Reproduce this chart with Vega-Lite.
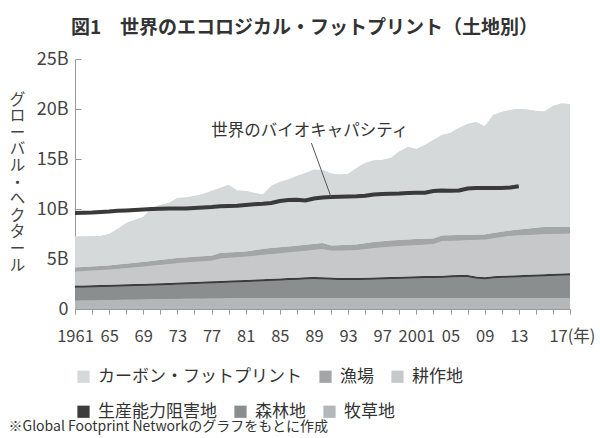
{
  "$schema": "https://vega.github.io/schema/vega-lite/v6.json",
  "width": 495,
  "height": 250,
  "autosize": {"type": "none"},
  "padding": {"left": 75, "top": 59, "right": 30, "bottom": 129},
  "background": "white",
  "config": {"font": "Noto Sans CJK JP", "view": {"stroke": null}},
  "title": {"text": "図1　世界のエコロジカル・フットプリント（土地別）", "fontSize": 19, "fontWeight": "bold", "color": "#333333", "anchor": "middle", "dx": -18, "offset": 12},
  "resolve": {"axis": {"x": "independent"}},
  "datasets": {
    "rank": [
      {"land": "牧草地", "rank": 1},
      {"land": "森林地", "rank": 2},
      {"land": "生産能力阻害地", "rank": 3},
      {"land": "耕作地", "rank": 4},
      {"land": "漁場", "rank": 5},
      {"land": "カーボン・フットプリント", "rank": 6}
    ]
  },
  "data": {"values": [
    {"year": 1961, "牧草地": 0.86, "森林地": 1.28, "生産能力阻害地": 0.2, "耕作地": 1.42, "漁場": 0.40, "カーボン・フットプリント": 3.10, "biocap": 9.6},
    {"year": 1962, "牧草地": 0.87, "森林地": 1.29, "生産能力阻害地": 0.2, "耕作地": 1.44, "漁場": 0.41, "カーボン・フットプリント": 3.05, "biocap": 9.62},
    {"year": 1963, "牧草地": 0.88, "森林地": 1.30, "生産能力阻害地": 0.2, "耕作地": 1.47, "漁場": 0.41, "カーボン・フットプリント": 3.02, "biocap": 9.65},
    {"year": 1964, "牧草地": 0.89, "森林地": 1.31, "生産能力阻害地": 0.2, "耕作地": 1.50, "漁場": 0.41, "カーボン・フットプリント": 2.99, "biocap": 9.7},
    {"year": 1965, "牧草地": 0.90, "森林地": 1.32, "生産能力阻害地": 0.2, "耕作地": 1.53, "漁場": 0.41, "カーボン・フットプリント": 3.14, "biocap": 9.75},
    {"year": 1966, "牧草地": 0.92, "森林地": 1.33, "生産能力阻害地": 0.2, "耕作地": 1.57, "漁場": 0.43, "カーボン・フットプリント": 3.55, "biocap": 9.82},
    {"year": 1967, "牧草地": 0.94, "森林地": 1.33, "生産能力阻害地": 0.2, "耕作地": 1.63, "漁場": 0.43, "カーボン・フットプリント": 4.07, "biocap": 9.86},
    {"year": 1968, "牧草地": 0.96, "森林地": 1.34, "生産能力阻害地": 0.2, "耕作地": 1.67, "漁場": 0.45, "カーボン・フットプリント": 4.28, "biocap": 9.9},
    {"year": 1969, "牧草地": 0.98, "森林地": 1.34, "生産能力阻害地": 0.2, "耕作地": 1.73, "漁場": 0.45, "カーボン・フットプリント": 4.50, "biocap": 9.95},
    {"year": 1970, "牧草地": 1.00, "森林地": 1.35, "生産能力阻害地": 0.2, "耕作地": 1.79, "漁場": 0.46, "カーボン・フットプリント": 5.30, "biocap": 10.0},
    {"year": 1971, "牧草地": 1.01, "森林地": 1.37, "生産能力阻害地": 0.2, "耕作地": 1.84, "漁場": 0.48, "カーボン・フットプリント": 5.50, "biocap": 10.03},
    {"year": 1972, "牧草地": 1.02, "森林地": 1.39, "生産能力阻害地": 0.2, "耕作地": 1.90, "漁場": 0.49, "カーボン・フットプリント": 5.60, "biocap": 10.05},
    {"year": 1973, "牧草地": 1.03, "森林地": 1.41, "生産能力阻害地": 0.2, "耕作地": 1.96, "漁場": 0.50, "カーボン・フットプリント": 6.00, "biocap": 10.06},
    {"year": 1974, "牧草地": 1.04, "森林地": 1.43, "生産能力阻害地": 0.2, "耕作地": 1.99, "漁場": 0.50, "カーボン・フットプリント": 5.99, "biocap": 10.06},
    {"year": 1975, "牧草地": 1.05, "森林地": 1.45, "生産能力阻害地": 0.2, "耕作地": 2.02, "漁場": 0.50, "カーボン・フットプリント": 6.08, "biocap": 10.1},
    {"year": 1976, "牧草地": 1.06, "森林地": 1.48, "生産能力阻害地": 0.2, "耕作地": 2.04, "漁場": 0.49, "カーボン・フットプリント": 6.23, "biocap": 10.15},
    {"year": 1977, "牧草地": 1.07, "森林地": 1.50, "生産能力阻害地": 0.2, "耕作地": 2.08, "漁場": 0.48, "カーボン・フットプリント": 6.47, "biocap": 10.2},
    {"year": 1978, "牧草地": 1.08, "森林地": 1.53, "生産能力阻害地": 0.2, "耕作地": 2.24, "漁場": 0.55, "カーボン・フットプリント": 6.50, "biocap": 10.28},
    {"year": 1979, "牧草地": 1.09, "森林地": 1.55, "生産能力阻害地": 0.2, "耕作地": 2.28, "漁場": 0.53, "カーボン・フットプリント": 6.75, "biocap": 10.3},
    {"year": 1980, "牧草地": 1.10, "森林地": 1.58, "生産能力阻害地": 0.2, "耕作地": 2.30, "漁場": 0.52, "カーボン・フットプリント": 6.16, "biocap": 10.32},
    {"year": 1981, "牧草地": 1.10, "森林地": 1.61, "生産能力阻害地": 0.2, "耕作地": 2.34, "漁場": 0.51, "カーボン・フットプリント": 6.04, "biocap": 10.4},
    {"year": 1982, "牧草地": 1.10, "森林地": 1.65, "生産能力阻害地": 0.2, "耕作地": 2.38, "漁場": 0.54, "カーボン・フットプリント": 5.73, "biocap": 10.48},
    {"year": 1983, "牧草地": 1.10, "森林地": 1.68, "生産能力阻害地": 0.2, "耕作地": 2.44, "漁場": 0.57, "カーボン・フットプリント": 5.46, "biocap": 10.53},
    {"year": 1984, "牧草地": 1.10, "森林地": 1.72, "生産能力阻害地": 0.2, "耕作地": 2.48, "漁場": 0.60, "カーボン・フットプリント": 6.20, "biocap": 10.6},
    {"year": 1985, "牧草地": 1.10, "森林地": 1.75, "生産能力阻害地": 0.2, "耕作地": 2.53, "漁場": 0.60, "カーボン・フットプリント": 6.52, "biocap": 10.8},
    {"year": 1986, "牧草地": 1.10, "森林地": 1.79, "生産能力阻害地": 0.2, "耕作地": 2.58, "漁場": 0.58, "カーボン・フットプリント": 6.70, "biocap": 10.9},
    {"year": 1987, "牧草地": 1.10, "森林地": 1.83, "生産能力阻害地": 0.2, "耕作地": 2.62, "漁場": 0.58, "カーボン・フットプリント": 6.97, "biocap": 10.92},
    {"year": 1988, "牧草地": 1.10, "森林地": 1.88, "生産能力阻害地": 0.2, "耕作地": 2.65, "漁場": 0.59, "カーボン・フットプリント": 7.18, "biocap": 10.85},
    {"year": 1989, "牧草地": 1.10, "森林地": 1.89, "生産能力阻害地": 0.2, "耕作地": 2.73, "漁場": 0.59, "カーボン・フットプリント": 7.42, "biocap": 11.05},
    {"year": 1990, "牧草地": 1.10, "森林地": 1.88, "生産能力阻害地": 0.2, "耕作地": 2.82, "漁場": 0.60, "カーボン・フットプリント": 7.30, "biocap": 11.15},
    {"year": 1991, "牧草地": 1.10, "森林地": 1.84, "生産能力阻害地": 0.2, "耕作地": 2.71, "漁場": 0.50, "カーボン・フットプリント": 7.20, "biocap": 11.2},
    {"year": 1992, "牧草地": 1.10, "森林地": 1.80, "生産能力阻害地": 0.2, "耕作地": 2.76, "漁場": 0.52, "カーボン・フットプリント": 7.07, "biocap": 11.22},
    {"year": 1993, "牧草地": 1.10, "森林地": 1.80, "生産能力阻害地": 0.2, "耕作地": 2.78, "漁場": 0.54, "カーボン・フットプリント": 7.08, "biocap": 11.25},
    {"year": 1994, "牧草地": 1.10, "森林地": 1.81, "生産能力阻害地": 0.2, "耕作地": 2.79, "漁場": 0.55, "カーボン・フットプリント": 7.65, "biocap": 11.27},
    {"year": 1995, "牧草地": 1.10, "森林地": 1.82, "生産能力阻害地": 0.2, "耕作地": 2.88, "漁場": 0.58, "カーボン・フットプリント": 8.02, "biocap": 11.33},
    {"year": 1996, "牧草地": 1.10, "森林地": 1.85, "生産能力阻害地": 0.2, "耕作地": 2.95, "漁場": 0.60, "カーボン・フットプリント": 8.16, "biocap": 11.45},
    {"year": 1997, "牧草地": 1.10, "森林地": 1.87, "生産能力阻害地": 0.2, "耕作地": 3.01, "漁場": 0.60, "カーボン・フットプリント": 8.12, "biocap": 11.5},
    {"year": 1998, "牧草地": 1.10, "森林地": 1.90, "生産能力阻害地": 0.2, "耕作地": 3.05, "漁場": 0.61, "カーボン・フットプリント": 8.24, "biocap": 11.52},
    {"year": 1999, "牧草地": 1.10, "森林地": 1.93, "生産能力阻害地": 0.2, "耕作地": 3.07, "漁場": 0.61, "カーボン・フットプリント": 8.85, "biocap": 11.55},
    {"year": 2000, "牧草地": 1.10, "森林地": 1.96, "生産能力阻害地": 0.2, "耕作地": 3.09, "漁場": 0.60, "カーボン・フットプリント": 9.25, "biocap": 11.6},
    {"year": 2001, "牧草地": 1.10, "森林地": 1.97, "生産能力阻害地": 0.2, "耕作地": 3.13, "漁場": 0.60, "カーボン・フットプリント": 9.00, "biocap": 11.62},
    {"year": 2002, "牧草地": 1.10, "森林地": 1.99, "生産能力阻害地": 0.2, "耕作地": 3.16, "漁場": 0.58, "カーボン・フットプリント": 9.37, "biocap": 11.62},
    {"year": 2003, "牧草地": 1.10, "森林地": 2.00, "生産能力阻害地": 0.2, "耕作地": 3.20, "漁場": 0.55, "カーボン・フットプリント": 9.85, "biocap": 11.8},
    {"year": 2004, "牧草地": 1.10, "森林地": 2.03, "生産能力阻害地": 0.2, "耕作地": 3.47, "漁場": 0.55, "カーボン・フットプリント": 10.05, "biocap": 11.85},
    {"year": 2005, "牧草地": 1.10, "森林地": 2.07, "生産能力阻害地": 0.2, "耕作地": 3.46, "漁場": 0.54, "カーボン・フットプリント": 10.23, "biocap": 11.83},
    {"year": 2006, "牧草地": 1.10, "森林地": 2.10, "生産能力阻害地": 0.2, "耕作地": 3.46, "漁場": 0.53, "カーボン・フットプリント": 10.71, "biocap": 11.85},
    {"year": 2007, "牧草地": 1.10, "森林地": 2.10, "生産能力阻害地": 0.2, "耕作地": 3.49, "漁場": 0.52, "カーボン・フットプリント": 11.09, "biocap": 12.05},
    {"year": 2008, "牧草地": 1.10, "森林地": 1.95, "生産能力阻害地": 0.2, "耕作地": 3.67, "漁場": 0.51, "カーボン・フットプリント": 11.27, "biocap": 12.1},
    {"year": 2009, "牧草地": 1.10, "森林地": 1.88, "生産能力阻害地": 0.2, "耕作地": 3.77, "漁場": 0.50, "カーボン・フットプリント": 10.80, "biocap": 12.1},
    {"year": 2010, "牧草地": 1.10, "森林地": 1.98, "生産能力阻害地": 0.2, "耕作地": 3.80, "漁場": 0.52, "カーボン・フットプリント": 11.80, "biocap": 12.1},
    {"year": 2011, "牧草地": 1.10, "森林地": 2.02, "生産能力阻害地": 0.2, "耕作地": 3.88, "漁場": 0.53, "カーボン・フットプリント": 11.97, "biocap": 12.1},
    {"year": 2012, "牧草地": 1.10, "森林地": 2.05, "生産能力阻害地": 0.2, "耕作地": 3.98, "漁場": 0.53, "カーボン・フットプリント": 12.04, "biocap": 12.15},
    {"year": 2013, "牧草地": 1.10, "森林地": 2.08, "生産能力阻害地": 0.2, "耕作地": 3.99, "漁場": 0.58, "カーボン・フットプリント": 12.05, "biocap": 12.28},
    {"year": 2014, "牧草地": 1.10, "森林地": 2.12, "生産能力阻害地": 0.2, "耕作地": 3.99, "漁場": 0.62, "カーボン・フットプリント": 11.92},
    {"year": 2015, "牧草地": 1.10, "森林地": 2.15, "生産能力阻害地": 0.2, "耕作地": 4.01, "漁場": 0.66, "カーボン・フットプリント": 11.68},
    {"year": 2016, "牧草地": 1.10, "森林地": 2.18, "生産能力阻害地": 0.2, "耕作地": 4.02, "漁場": 0.70, "カーボン・フットプリント": 11.55},
    {"year": 2017, "牧草地": 1.10, "森林地": 2.22, "生産能力阻害地": 0.2, "耕作地": 4.00, "漁場": 0.68, "カーボン・フットプリント": 12.10},
    {"year": 2018, "牧草地": 1.10, "森林地": 2.25, "生産能力阻害地": 0.2, "耕作地": 3.98, "漁場": 0.67, "カーボン・フットプリント": 12.35},
    {"year": 2019, "牧草地": 1.10, "森林地": 2.27, "生産能力阻害地": 0.2, "耕作地": 3.98, "漁場": 0.67, "カーボン・フットプリント": 12.28}
  ]},
  "layer": [
    {
      "transform": [
        {"fold": ["牧草地", "森林地", "生産能力阻害地", "耕作地", "漁場", "カーボン・フットプリント"], "as": ["land", "value"]},
        {"lookup": "land", "from": {"data": {"name": "rank"}, "key": "land", "fields": ["rank"]}}
      ],
      "mark": {"type": "area", "opacity": 1},
      "encoding": {
        "x": {"field": "year", "type": "quantitative",
          "scale": {"domain": [1961, 2019], "nice": false, "zero": false},
          "axis": {
            "orient": "bottom",
            "values": [1961, 1965, 1969, 1973, 1977, 1981, 1985, 1989, 1993, 1997, 2001, 2005, 2009, 2013, 2017],
            "labelExpr": "(datum.value == 1961 || datum.value == 2001) ? '' + datum.value : datum.value == 2017 ? '17(年)' : substring('' + datum.value, 2)",
            "labelAlign": {"condition": {"test": "datum.value == 2017", "value": "left"}, "value": "center"},
            "labelOffset": {"condition": {"test": "datum.value == 2017", "value": -4}, "value": 0},
            "labelFlush": false,
            "labelOverlap": false,
            "labelBound": false,
            "labelFontSize": 16.5,
            "labelColor": "#444444",
            "labelPadding": 14,
            "tickSize": 5,
            "tickColor": "#999999",
            "domainColor": "#999999",
            "grid": false,
            "title": "※Global Footprint Networkのグラフをもとに作成",
            "titleX": -67,
            "titleY": 117,
            "titleAlign": "left",
            "titleAnchor": "start",
            "titleBaseline": "middle",
            "titleFontSize": 14,
            "titleFontWeight": "normal",
            "titleColor": "#333333"
          }
        },
        "y": {"field": "value", "type": "quantitative", "stack": "zero",
          "scale": {"domain": [0, 25], "nice": false},
          "axis": {
            "values": [0, 5, 10, 15, 20, 25],
            "labelExpr": "datum.value == 0 ? '0' : datum.value + 'B'",
            "labelFontSize": 18,
            "labelColor": "#444444",
            "tickSize": -6,
            "labelPadding": 13,
            "tickColor": "#999999",
            "domainColor": "#999999",
            "grid": false,
            "title": ["グ", "ロ", "ー", "バ", "ル", "・", "ヘ", "ク", "タ", "ー", "ル"],
            "titleAngle": 0,
            "titleX": -58,
            "titleY": 33,
            "titleAlign": "center",
            "titleBaseline": "top",
            "titleLineHeight": 16.6,
            "titleFontSize": 15.5,
            "titleFontWeight": "normal",
            "titleColor": "#444444"
          }
        },
        "order": {"field": "rank", "type": "quantitative", "sort": "ascending"},
        "color": {"field": "land", "type": "nominal",
          "scale": {
            "domain": ["カーボン・フットプリント", "漁場", "耕作地", "生産能力阻害地", "森林地", "牧草地"],
            "range": ["#d5d9da", "#a3a6a7", "#c6c8ca", "#3c3c3c", "#8b8e8f", "#b4b7b8"]
          },
          "legend": {
            "orient": "none",
            "legendX": 0,
            "legendY": 309,
            "direction": "horizontal",
            "title": null,
            "values": ["カーボン・フットプリント", "漁場", "耕作地"],
            "symbolType": "square",
            "symbolSize": 150,
            "symbolStrokeWidth": 0,
            "symbolOpacity": 1,
            "labelFontSize": 17,
            "labelColor": "#333333",
            "labelOffset": 6,
            "labelLimit": 300,
            "columnPadding": 15
          }
        }
      }
    },
    {
      "transform": [
        {"fold": ["牧草地", "森林地", "生産能力阻害地", "耕作地", "漁場", "カーボン・フットプリント"], "as": ["land", "value"]},
        {"lookup": "land", "from": {"data": {"name": "rank"}, "key": "land", "fields": ["rank"]}}
      ],
      "mark": {"type": "area", "opacity": 1},
      "encoding": {
        "x": {"field": "year", "type": "quantitative", "axis": null},
        "y": {"field": "value", "type": "quantitative", "stack": "zero"},
        "order": {"field": "rank", "type": "quantitative", "sort": "ascending"},
        "fill": {"field": "land", "type": "nominal",
          "scale": {
            "domain": ["生産能力阻害地", "森林地", "牧草地", "カーボン・フットプリント", "漁場", "耕作地"],
            "range": ["#3c3c3c", "#8b8e8f", "#b4b7b8", "#d5d9da", "#a3a6a7", "#c6c8ca"]
          },
          "legend": {
            "orient": "none",
            "legendX": 0,
            "legendY": 344,
            "direction": "horizontal",
            "title": null,
            "values": ["生産能力阻害地", "森林地", "牧草地"],
            "symbolType": "square",
            "symbolSize": 150,
            "symbolStrokeWidth": 0,
            "symbolOpacity": 1,
            "labelFontSize": 17,
            "labelColor": "#333333",
            "labelOffset": 6,
            "labelLimit": 300,
            "columnPadding": 15
          }
        }
      }
    },
    {
      "mark": {"type": "line", "color": "#3a3a3a", "strokeWidth": 4},
      "encoding": {
        "x": {"field": "year", "type": "quantitative",
          "axis": {
            "orient": "bottom",
            "values": [1963, 1967, 1971, 1975, 1979, 1983, 1987, 1991, 1995, 1999, 2003, 2007, 2011, 2015, 2019],
            "labels": false,
            "domain": false,
            "grid": false,
            "tickSize": 5,
            "tickColor": "#999999",
            "title": null
          }
        },
        "y": {"field": "biocap", "type": "quantitative"}
      }
    },
    {
      "data": {"values": [{"note": "biocapacity"}]},
      "mark": {"type": "rule", "color": "#555555", "strokeWidth": 1},
      "encoding": {
        "x": {"datum": 1988.7, "type": "quantitative", "axis": null},
        "y": {"datum": 16.6, "type": "quantitative"},
        "x2": {"datum": 1991.0},
        "y2": {"datum": 11.2}
      }
    },
    {
      "data": {"values": [{"note": "世界のバイオキャパシティ"}]},
      "mark": {"type": "text", "fontSize": 16.5, "color": "#333333", "align": "center", "baseline": "middle"},
      "encoding": {
        "x": {"datum": 1988.5, "type": "quantitative", "axis": null},
        "y": {"datum": 17.83, "type": "quantitative"},
        "text": {"field": "note"}
      }
    }
  ]
}
